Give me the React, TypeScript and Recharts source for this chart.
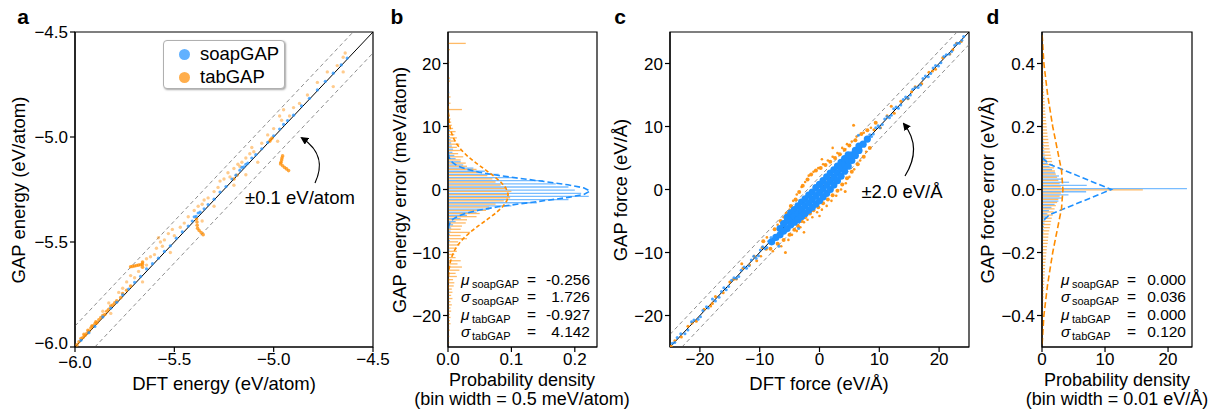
import React from 'react';
import {
  ScatterChart,
  Scatter,
  ComposedChart,
  Bar,
  Line,
  XAxis,
  YAxis,
  ReferenceLine,
  ReferenceArea,
} from 'recharts';

const FONT = "'Liberation Sans', Arial, Helvetica, sans-serif";
const BLUE = '#1e90ff';
const ORANGE = '#ff8c00';

// ---- panel a: energies (eV/atom)
const energyTicks = [-6, -5.5, -5, -4.5];

const soapEnergy = [
  { dft: -5.97, gap: -5.968 }, { dft: -5.93, gap: -5.932 }, { dft: -5.9, gap: -5.902 },
  { dft: -5.86, gap: -5.857 }, { dft: -5.82, gap: -5.815 }, { dft: -5.79, gap: -5.787 },
  { dft: -5.76, gap: -5.752 }, { dft: -5.73, gap: -5.724 }, { dft: -5.7, gap: -5.692 },
  { dft: -5.67, gap: -5.664 }, { dft: -5.64, gap: -5.628 }, { dft: -5.61, gap: -5.603 },
  { dft: -5.58, gap: -5.577 }, { dft: -5.55, gap: -5.545 }, { dft: -5.52, gap: -5.518 },
  { dft: -5.49, gap: -5.482 }, { dft: -5.46, gap: -5.452 }, { dft: -5.43, gap: -5.424 },
  { dft: -5.41, gap: -5.4 }, { dft: -5.39, gap: -5.378 }, { dft: -5.37, gap: -5.358 },
  { dft: -5.35, gap: -5.342 }, { dft: -5.33, gap: -5.322 }, { dft: -5.3, gap: -5.296 },
  { dft: -5.27, gap: -5.262 }, { dft: -5.24, gap: -5.236 }, { dft: -5.21, gap: -5.2 },
  { dft: -5.19, gap: -5.182 }, { dft: -5.17, gap: -5.158 }, { dft: -5.15, gap: -5.142 },
  { dft: -5.13, gap: -5.124 }, { dft: -5.11, gap: -5.1 }, { dft: -5.09, gap: -5.084 },
  { dft: -5.06, gap: -5.056 }, { dft: -5.03, gap: -5.026 }, { dft: -5.0, gap: -4.994 },
  { dft: -4.97, gap: -4.962 }, { dft: -4.95, gap: -4.94 }, { dft: -4.93, gap: -4.922 },
  { dft: -4.9, gap: -4.896 }, { dft: -4.86, gap: -4.852 }, { dft: -4.82, gap: -4.816 },
  { dft: -4.78, gap: -4.776 }, { dft: -4.74, gap: -4.735 }, { dft: -4.7, gap: -4.696 },
  { dft: -4.66, gap: -4.657 }, { dft: -4.63, gap: -4.624 }, { dft: -5.4, gap: -5.38 },
  { dft: -5.38, gap: -5.362 }, { dft: -5.16, gap: -5.145 }, { dft: -5.14, gap: -5.13 },
];

// faint, scattered tabGAP points
const tabEnergy = [
  { dft: -5.86, gap: -5.83 }, { dft: -5.83, gap: -5.79 }, { dft: -5.78, gap: -5.74 },
  { dft: -5.74, gap: -5.69 }, { dft: -5.72, gap: -5.66 }, { dft: -5.7, gap: -5.67 },
  { dft: -5.68, gap: -5.64 }, { dft: -5.66, gap: -5.6 }, { dft: -5.64, gap: -5.58 },
  { dft: -5.62, gap: -5.57 }, { dft: -5.6, gap: -5.56 }, { dft: -5.59, gap: -5.53 },
  { dft: -5.57, gap: -5.5 }, { dft: -5.55, gap: -5.49 }, { dft: -5.58, gap: -5.48 },
  { dft: -5.53, gap: -5.46 }, { dft: -5.5, gap: -5.47 }, { dft: -5.47, gap: -5.43 },
  { dft: -5.45, gap: -5.41 }, { dft: -5.43, gap: -5.38 }, { dft: -5.4, gap: -5.35 },
  { dft: -5.38, gap: -5.33 }, { dft: -5.36, gap: -5.32 }, { dft: -5.33, gap: -5.29 },
  { dft: -5.3, gap: -5.26 }, { dft: -5.28, gap: -5.24 }, { dft: -5.25, gap: -5.2 },
  { dft: -5.23, gap: -5.17 }, { dft: -5.2, gap: -5.15 }, { dft: -5.18, gap: -5.13 },
  { dft: -5.16, gap: -5.12 }, { dft: -5.14, gap: -5.1 }, { dft: -5.12, gap: -5.08 },
  { dft: -5.1, gap: -5.07 }, { dft: -5.06, gap: -5.03 }, { dft: -5.03, gap: -4.99 },
  { dft: -5.0, gap: -4.96 }, { dft: -4.97, gap: -4.9 }, { dft: -4.95, gap: -4.87 },
  { dft: -4.92, gap: -4.9 }, { dft: -4.9, gap: -4.86 }, { dft: -4.87, gap: -4.84 },
  { dft: -4.83, gap: -4.8 }, { dft: -4.78, gap: -4.74 }, { dft: -4.73, gap: -4.69 },
  { dft: -4.68, gap: -4.66 }, { dft: -4.65, gap: -4.62 }, { dft: -4.64, gap: -4.6 },
  { dft: -5.82, gap: -5.84 }, { dft: -5.66, gap: -5.69 }, { dft: -5.52, gap: -5.55 },
  { dft: -5.36, gap: -5.4 }, { dft: -5.3, gap: -5.33 }, { dft: -5.2, gap: -5.23 },
  { dft: -5.14, gap: -5.18 }, { dft: -5.08, gap: -5.12 }, { dft: -4.98, gap: -5.02 },
  { dft: -4.7, gap: -4.76 }, { dft: -4.65, gap: -4.69 }, { dft: -5.64, gap: -5.61 },
  { dft: -5.56, gap: -5.52 }, { dft: -5.51, gap: -5.44 }, { dft: -5.35, gap: -5.3 },
  { dft: -5.27, gap: -5.21 }, { dft: -5.22, gap: -5.19 }, { dft: -5.17, gap: -5.14 },
  { dft: -5.11, gap: -5.05 }, { dft: -4.96, gap: -4.92 }, { dft: -5.76, gap: -5.72 },
];

// dense tabGAP streaks (cluster near -6 and short segments)
const tabEnergyStreaks = [
  { dft: -5.99, gap: -5.99 }, { dft: -5.98, gap: -5.975 }, { dft: -5.97, gap: -5.96 },
  { dft: -5.96, gap: -5.955 }, { dft: -5.955, gap: -5.94 }, { dft: -5.95, gap: -5.945 },
  { dft: -5.94, gap: -5.935 }, { dft: -5.935, gap: -5.92 }, { dft: -5.93, gap: -5.925 },
  { dft: -5.92, gap: -5.91 }, { dft: -5.915, gap: -5.9 }, { dft: -5.91, gap: -5.9 },
  { dft: -5.9, gap: -5.89 }, { dft: -5.895, gap: -5.88 }, { dft: -5.89, gap: -5.885 },
  { dft: -5.88, gap: -5.87 }, { dft: -5.87, gap: -5.86 }, { dft: -5.86, gap: -5.85 },
  { dft: -5.85, gap: -5.845 }, { dft: -5.84, gap: -5.83 }, { dft: -5.83, gap: -5.82 },
  { dft: -5.82, gap: -5.805 }, { dft: -5.81, gap: -5.8 }, { dft: -5.8, gap: -5.79 },
  { dft: -5.79, gap: -5.78 }, { dft: -5.77, gap: -5.765 }, { dft: -5.76, gap: -5.745 },
  { dft: -5.74, gap: -5.73 }, { dft: -5.72, gap: -5.71 },
  { dft: -5.02, gap: -5.02 }, { dft: -5.015, gap: -5.012 }, { dft: -5.008, gap: -5.005 },
  { dft: -5.2, gap: -5.2 }, { dft: -5.185, gap: -5.182 },
  { dft: -5.72, gap: -5.618 }, { dft: -5.71, gap: -5.616 }, { dft: -5.7, gap: -5.614 },
  { dft: -5.69, gap: -5.612 }, { dft: -5.68, gap: -5.61 }, { dft: -5.67, gap: -5.608 },
  { dft: -5.66, gap: -5.607 }, { dft: -5.66, gap: -5.62 }, { dft: -5.66, gap: -5.595 },
  { dft: -5.388, gap: -5.39 }, { dft: -5.386, gap: -5.405 }, { dft: -5.385, gap: -5.42 },
  { dft: -5.383, gap: -5.435 }, { dft: -5.375, gap: -5.445 }, { dft: -5.365, gap: -5.455 },
  { dft: -5.355, gap: -5.465 },
  { dft: -4.955, gap: -5.09 }, { dft: -4.958, gap: -5.1 }, { dft: -4.96, gap: -5.11 },
  { dft: -4.963, gap: -5.12 }, { dft: -4.965, gap: -5.128 }, { dft: -4.955, gap: -5.137 },
  { dft: -4.945, gap: -5.145 }, { dft: -4.935, gap: -5.152 }, { dft: -4.925, gap: -5.16 },
];

// ---- panel b: energy error histogram (meV/atom), bin width 0.5
const energyErrTicks = [-20, -10, 0, 10, 20];
const densityTicksB = [0, 0.1, 0.2];

const energyHist = [
  { e: 23.25, soap: 0, tab: 0.028 }, { e: 22.25, soap: 0, tab: 0.003 },
  { e: 20.25, soap: 0, tab: 0.002 }, { e: 17.75, soap: 0, tab: 0.003 },
  { e: 17.25, soap: 0.002, tab: 0.003 }, { e: 15.25, soap: 0.002, tab: 0.002 },
  { e: 14.75, soap: 0, tab: 0.004 }, { e: 13.75, soap: 0, tab: 0.004 },
  { e: 12.75, soap: 0, tab: 0.022 }, { e: 11.75, soap: 0.002, tab: 0.003 },
  { e: 11.25, soap: 0, tab: 0.004 }, { e: 10.75, soap: 0, tab: 0.005 },
  { e: 10.25, soap: 0.002, tab: 0.006 }, { e: 9.75, soap: 0, tab: 0.008 },
  { e: 9.25, soap: 0.003, tab: 0.012 }, { e: 8.75, soap: 0.002, tab: 0.01 },
  { e: 8.25, soap: 0.003, tab: 0.014 }, { e: 7.75, soap: 0.004, tab: 0.012 },
  { e: 7.25, soap: 0.005, tab: 0.018 }, { e: 6.75, soap: 0.006, tab: 0.014 },
  { e: 6.25, soap: 0.008, tab: 0.02 }, { e: 5.75, soap: 0.007, tab: 0.016 },
  { e: 5.25, soap: 0.01, tab: 0.024 }, { e: 4.75, soap: 0.012, tab: 0.02 },
  { e: 4.25, soap: 0.02, tab: 0.028 }, { e: 3.75, soap: 0.024, tab: 0.03 },
  { e: 3.25, soap: 0.04, tab: 0.045 }, { e: 2.75, soap: 0.058, tab: 0.05 },
  { e: 2.25, soap: 0.08, tab: 0.062 }, { e: 1.75, soap: 0.105, tab: 0.07 },
  { e: 1.25, soap: 0.15, tab: 0.075 }, { e: 0.75, soap: 0.17, tab: 0.083 },
  { e: 0.25, soap: 0.19, tab: 0.09 }, { e: -0.25, soap: 0.2, tab: 0.1 },
  { e: -0.75, soap: 0.21, tab: 0.095 }, { e: -1.25, soap: 0.222, tab: 0.098 },
  { e: -1.75, soap: 0.19, tab: 0.088 }, { e: -2.25, soap: 0.14, tab: 0.075 },
  { e: -2.75, soap: 0.1, tab: 0.065 }, { e: -3.25, soap: 0.065, tab: 0.06 },
  { e: -3.75, soap: 0.045, tab: 0.05 }, { e: -4.25, soap: 0.03, tab: 0.045 },
  { e: -4.75, soap: 0.02, tab: 0.03 }, { e: -5.25, soap: 0.012, tab: 0.028 },
  { e: -5.75, soap: 0.008, tab: 0.022 }, { e: -6.25, soap: 0.005, tab: 0.02 },
  { e: -6.75, soap: 0.004, tab: 0.035 }, { e: -7.25, soap: 0.003, tab: 0.02 },
  { e: -7.75, soap: 0.002, tab: 0.03 }, { e: -8.25, soap: 0.003, tab: 0.016 },
  { e: -8.75, soap: 0.002, tab: 0.018 }, { e: -9.25, soap: 0, tab: 0.012 },
  { e: -9.75, soap: 0.002, tab: 0.014 }, { e: -10.25, soap: 0, tab: 0.01 },
  { e: -10.75, soap: 0, tab: 0.012 }, { e: -11.25, soap: 0, tab: 0.02 },
  { e: -11.75, soap: 0, tab: 0.015 }, { e: -12.25, soap: 0, tab: 0.022 },
  { e: -12.75, soap: 0, tab: 0.018 }, { e: -13.25, soap: 0, tab: 0.012 },
  { e: -13.75, soap: 0, tab: 0.014 }, { e: -14.25, soap: 0, tab: 0.008 },
  { e: -14.75, soap: 0, tab: 0.01 }, { e: -15.25, soap: 0, tab: 0.009 },
  { e: -15.75, soap: 0, tab: 0.006 }, { e: -16.25, soap: 0, tab: 0.007 },
  { e: -16.75, soap: 0, tab: 0.005 }, { e: -17.25, soap: 0, tab: 0.007 },
  { e: -17.75, soap: 0, tab: 0.004 }, { e: -18.25, soap: 0, tab: 0.006 },
  { e: -18.75, soap: 0, tab: 0.004 }, { e: -19.25, soap: 0, tab: 0.005 },
  { e: -19.75, soap: 0, tab: 0.003 }, { e: -20.25, soap: 0, tab: 0.004 },
  { e: -20.75, soap: 0, tab: 0.003 }, { e: -21.25, soap: 0, tab: 0.004 },
  { e: -21.75, soap: 0, tab: 0.002 }, { e: -22.25, soap: 0, tab: 0.003 },
  { e: -23.25, soap: 0, tab: 0.002 }, { e: -24.25, soap: 0, tab: 0.002 },
];

const soapEnergyFit = [
  { e: 5.75, p: 0.0005 }, { e: 5.25, p: 0.0014 }, { e: 4.75, p: 0.0033 },
  { e: 4.25, p: 0.0074 }, { e: 3.75, p: 0.0152 }, { e: 3.25, p: 0.0285 },
  { e: 2.75, p: 0.0491 }, { e: 2.25, p: 0.0781 }, { e: 1.75, p: 0.114 },
  { e: 1.25, p: 0.153 }, { e: 0.75, p: 0.189 }, { e: 0.25, p: 0.2146 },
  { e: -0.25, p: 0.224 }, { e: -0.75, p: 0.215 }, { e: -1.25, p: 0.1897 },
  { e: -1.75, p: 0.154 }, { e: -2.25, p: 0.115 }, { e: -2.75, p: 0.0789 },
  { e: -3.25, p: 0.0498 }, { e: -3.75, p: 0.0289 }, { e: -4.25, p: 0.0154 },
  { e: -4.75, p: 0.0075 }, { e: -5.25, p: 0.0034 }, { e: -5.75, p: 0.0014 },
  { e: -6.25, p: 0.0005 },
];

const tabEnergyFit = [
  { e: 13.25, p: 0.0003 }, { e: 12.25, p: 0.0006 }, { e: 11.25, p: 0.0013 },
  { e: 10.25, p: 0.0025 }, { e: 9.25, p: 0.0046 }, { e: 8.25, p: 0.0082 },
  { e: 7.25, p: 0.0135 }, { e: 6.25, p: 0.0212 }, { e: 5.25, p: 0.0312 },
  { e: 4.25, p: 0.0435 }, { e: 3.25, p: 0.0571 }, { e: 2.25, p: 0.0708 },
  { e: 1.25, p: 0.0827 }, { e: 0.25, p: 0.0912 }, { e: -0.75, p: 0.0949 },
  { e: -1.75, p: 0.0931 }, { e: -2.75, p: 0.0862 }, { e: -3.75, p: 0.0753 },
  { e: -4.75, p: 0.062 }, { e: -5.75, p: 0.0482 }, { e: -6.75, p: 0.0354 },
  { e: -7.75, p: 0.0245 }, { e: -8.75, p: 0.016 }, { e: -9.75, p: 0.0098 },
  { e: -10.75, p: 0.0057 }, { e: -11.75, p: 0.0031 }, { e: -12.75, p: 0.0016 },
  { e: -13.75, p: 0.0008 }, { e: -15.75, p: 0.0002 },
];

const statsB = [
  { sym: 'μ', sub: 'soapGAP', val: '-0.256' },
  { sym: 'σ', sub: 'soapGAP', val: '1.726' },
  { sym: 'μ', sub: 'tabGAP', val: '-0.927' },
  { sym: 'σ', sub: 'tabGAP', val: '4.142' },
];

// ---- panel c: forces (eV/Å)
const forceTicks = [-20, -10, 0, 10, 20];

const tabForce = [
  { dft: -24.2, gap: -24.0 }, { dft: -23.1, gap: -23.4 }, { dft: -22, gap: -21.7 },
  { dft: -20.6, gap: -20.9 }, { dft: -19.3, gap: -19.0 }, { dft: -18.2, gap: -18.5 },
  { dft: -17.4, gap: -17.0 }, { dft: -16.1, gap: -16.4 }, { dft: -15, gap: -14.7 },
  { dft: -13.9, gap: -14.2 }, { dft: -12.8, gap: -12.5 }, { dft: -11.7, gap: -12.0 },
  { dft: -10.9, gap: -10.6 }, { dft: -10.5, gap: -11.3 }, { dft: -9.6, gap: -9.2 },
  { dft: -8.9, gap: -9.5 }, { dft: -5.7, gap: -10.0 }, { dft: 9.1, gap: 9.5 },
  { dft: 10.2, gap: 9.8 }, { dft: 11.3, gap: 11.7 }, { dft: 12.5, gap: 12.1 },
  { dft: 13.6, gap: 14 }, { dft: 14.8, gap: 14.4 }, { dft: 16, gap: 16.3 },
  { dft: 17.1, gap: 16.8 }, { dft: 18.3, gap: 18.6 }, { dft: 19.4, gap: 19.1 },
  { dft: 20.6, gap: 20.9 }, { dft: 21.8, gap: 21.5 }, { dft: 22.9, gap: 23.2 },
  { dft: 23.7, gap: 23.5 }, { dft: 5.7, gap: 10.2 }, { dft: 4.3, gap: -0.3 },
  { dft: 12, gap: 13.2 }, { dft: -13, gap: -11.8 }, { dft: -24.8, gap: -24.9 },
  { dft: -21.3, gap: -21.2 }, { dft: -17.9, gap: -18.1 }, { dft: -14.4, gap: -14.3 },
  { dft: 15.4, gap: 15.5 }, { dft: 18.9, gap: 18.8 }, { dft: 22.3, gap: 22.2 },
];

const tabForceHalo = [
  { dft: -7.8, gap: -9.8 }, { dft: -7, gap: -5.6 }, { dft: -6.4, gap: -9 },
  { dft: -6, gap: -4.4 }, { dft: -5.2, gap: -8 }, { dft: -5, gap: -3.2 },
  { dft: -4.6, gap: -7.2 }, { dft: -4.4, gap: -1.8 }, { dft: -3.8, gap: -6.6 },
  { dft: -3.8, gap: -0.8 }, { dft: -3.2, gap: -6 }, { dft: -3, gap: 0.4 },
  { dft: -2.6, gap: -5.2 }, { dft: -2.4, gap: 1.2 }, { dft: -2, gap: -4.8 },
  { dft: -1.8, gap: 2.2 }, { dft: -1.2, gap: -4.4 }, { dft: -1, gap: 2.8 },
  { dft: -0.4, gap: -3.6 }, { dft: -0.2, gap: 3.4 }, { dft: 0.4, gap: -3.2 },
  { dft: 0.6, gap: 4 }, { dft: 1.2, gap: -2.6 }, { dft: 1.4, gap: 4.6 },
  { dft: 2, gap: -1.8 }, { dft: 2.2, gap: 5.2 }, { dft: 2.8, gap: -1 },
  { dft: 3, gap: 5.8 }, { dft: 3.6, gap: 0 }, { dft: 3.8, gap: 6.6 },
  { dft: 4.4, gap: 1 }, { dft: 4.6, gap: 7.2 }, { dft: 5, gap: 2 },
  { dft: 5.4, gap: 7.6 }, { dft: 5.8, gap: 3.2 }, { dft: 6.2, gap: 8.4 },
  { dft: 6.8, gap: 4.6 }, { dft: 7.4, gap: 9 }, { dft: 7.8, gap: 6 },
  { dft: 8.6, gap: 9.8 }, { dft: -8.8, gap: -7.6 }, { dft: -9.8, gap: -10.6 },
  { dft: 2.2, gap: 6.6 }, { dft: -2.6, gap: -6.8 }, { dft: 0, gap: -4.2 },
  { dft: 0.4, gap: 4.8 },
];

const tabForceCore = [
  { dft: -8.2, gap: -9.4 }, { dft: -7.5, gap: -6.3 }, { dft: -7, gap: -8.6 },
  { dft: -6.5, gap: -5 }, { dft: -6, gap: -8 }, { dft: -5.5, gap: -3.8 },
  { dft: -5, gap: -7.2 }, { dft: -4.8, gap: -2.6 }, { dft: -4.2, gap: -6.4 },
  { dft: -4, gap: -1.6 }, { dft: -3.6, gap: -5.8 }, { dft: -3.4, gap: -0.4 },
  { dft: -3, gap: -5 }, { dft: -2.8, gap: 0.6 }, { dft: -2.4, gap: -4.4 },
  { dft: -2, gap: 1.6 }, { dft: -1.6, gap: -3.8 }, { dft: -1.4, gap: 2.4 },
  { dft: -1, gap: -3.3 }, { dft: -0.6, gap: 3 }, { dft: -0.2, gap: -2.8 },
  { dft: 0.2, gap: 3.4 }, { dft: 0.6, gap: -2.2 }, { dft: 1, gap: 3.9 },
  { dft: 1.4, gap: -1.6 }, { dft: 1.8, gap: 4.4 }, { dft: 2.2, gap: -0.9 },
  { dft: 2.6, gap: 5 }, { dft: 3, gap: -0.2 }, { dft: 3.4, gap: 5.6 },
  { dft: 3.8, gap: 0.8 }, { dft: 4.2, gap: 6.3 }, { dft: 4.6, gap: 1.8 },
  { dft: 5, gap: 7 }, { dft: 5.4, gap: 2.8 }, { dft: 6, gap: 7.8 },
  { dft: 6.4, gap: 4 }, { dft: 7, gap: 8.8 }, { dft: 7.4, gap: 5.2 },
  { dft: 8, gap: 9.4 }, { dft: 8.4, gap: 6.6 }, { dft: -9.4, gap: -8.2 },
  { dft: 9.4, gap: 10.6 },
];

const soapForce = [
  { dft: -24.6, gap: -24.4 }, { dft: -23.8, gap: -23.5 }, { dft: -22.5, gap: -22.9 },
  { dft: -21.4, gap: -21 }, { dft: -20.3, gap: -20.6 }, { dft: -19.5, gap: -19.2 },
  { dft: -18.6, gap: -18.8 }, { dft: -17.9, gap: -17.4 }, { dft: -16.8, gap: -17.1 },
  { dft: -16, gap: -15.6 }, { dft: -15.2, gap: -15.4 }, { dft: -14.3, gap: -14 },
  { dft: -13.5, gap: -13.8 }, { dft: -12.6, gap: -12.3 }, { dft: -11.8, gap: -12.1 },
  { dft: -11, gap: -10.6 }, { dft: -10.2, gap: -10.5 }, { dft: -9.5, gap: -9.1 },
  { dft: -8.8, gap: -9.2 }, { dft: -8.1, gap: -7.6 }, { dft: -7.4, gap: -7.9 },
  { dft: 8, gap: 8.3 }, { dft: 8.7, gap: 8.4 }, { dft: 9.4, gap: 9.8 },
  { dft: 10.1, gap: 9.8 }, { dft: 10.9, gap: 11.2 }, { dft: 11.7, gap: 11.4 },
  { dft: 12.4, gap: 12.8 }, { dft: 13.2, gap: 12.9 }, { dft: 14, gap: 14.3 },
  { dft: 14.8, gap: 14.5 }, { dft: 15.6, gap: 15.9 }, { dft: 16.5, gap: 16.2 },
  { dft: 17.3, gap: 17.6 }, { dft: 18.2, gap: 17.9 }, { dft: 19, gap: 19.3 },
  { dft: 19.9, gap: 19.6 }, { dft: 20.8, gap: 21.1 }, { dft: 21.7, gap: 21.5 },
  { dft: 22.6, gap: 22.9 }, { dft: 23.4, gap: 23.2 }, { dft: 24.1, gap: 24.3 },
  { dft: -3.5, gap: -6.2 }, { dft: 6.5, gap: 8.6 }, { dft: -6.8, gap: -9 },
  { dft: -24.2, gap: -24.3 }, { dft: -23.2, gap: -22.9 }, { dft: -22, gap: -22.3 },
  { dft: -21, gap: -20.7 }, { dft: -19.9, gap: -20.2 }, { dft: -18.9, gap: -18.6 },
  { dft: -17.4, gap: -17.7 }, { dft: -16.4, gap: -16.2 }, { dft: -15.6, gap: -15.9 },
  { dft: -14.7, gap: -14.4 }, { dft: -13.9, gap: -14.1 }, { dft: -13.1, gap: -12.8 },
  { dft: -12.2, gap: -12.5 }, { dft: -11.4, gap: -11.2 }, { dft: -10.6, gap: -10.9 },
  { dft: -9.9, gap: -9.6 }, { dft: -9.1, gap: -9.4 }, { dft: -8.5, gap: -8.2 },
  { dft: -7.8, gap: -8.1 }, { dft: 8.4, gap: 8.7 }, { dft: 9, gap: 8.8 },
  { dft: 9.8, gap: 10.1 }, { dft: 10.5, gap: 10.3 }, { dft: 11.3, gap: 11.6 },
  { dft: 12, gap: 11.8 }, { dft: 12.8, gap: 13.1 }, { dft: 13.6, gap: 13.4 },
  { dft: 14.4, gap: 14.7 }, { dft: 15.2, gap: 15 }, { dft: 16, gap: 16.2 },
  { dft: 16.9, gap: 16.6 }, { dft: 17.7, gap: 18 }, { dft: 18.6, gap: 18.4 },
  { dft: 19.4, gap: 19.7 }, { dft: 20.3, gap: 20.1 }, { dft: 21.2, gap: 21.4 },
  { dft: 22.1, gap: 21.9 }, { dft: 23, gap: 23.2 }, { dft: 23.8, gap: 23.7 },
];

const soapForceCore = [
  { dft: -8, gap: -8.3 }, { dft: -7.3, gap: -7.6 }, { dft: -6.6, gap: -7.2 },
  { dft: -6.6, gap: -6.2 }, { dft: -6, gap: -6.6 }, { dft: -6, gap: -5.4 },
  { dft: -5.4, gap: -6.2 }, { dft: -5.4, gap: -5 }, { dft: -5.4, gap: -4.4 },
  { dft: -4.8, gap: -5.6 }, { dft: -4.8, gap: -4.6 }, { dft: -4.8, gap: -3.7 },
  { dft: -4.2, gap: -5.2 }, { dft: -4.2, gap: -4.2 }, { dft: -4.2, gap: -3.2 },
  { dft: -3.6, gap: -4.8 }, { dft: -3.6, gap: -3.8 }, { dft: -3.6, gap: -2.6 },
  { dft: -3, gap: -4.3 }, { dft: -3, gap: -3.2 }, { dft: -3, gap: -2 },
  { dft: -2.4, gap: -3.8 }, { dft: -2.4, gap: -2.6 }, { dft: -2.4, gap: -1.5 },
  { dft: -1.8, gap: -3.3 }, { dft: -1.8, gap: -2.1 }, { dft: -1.8, gap: -0.9 },
  { dft: -1.2, gap: -2.8 }, { dft: -1.2, gap: -1.6 }, { dft: -1.2, gap: -0.4 },
  { dft: -0.6, gap: -2.3 }, { dft: -0.6, gap: -1 }, { dft: -0.6, gap: 0.3 },
  { dft: 0, gap: -1.8 }, { dft: 0, gap: -0.5 }, { dft: 0, gap: 0.8 },
  { dft: 0.6, gap: -1.2 }, { dft: 0.6, gap: 0.1 }, { dft: 0.6, gap: 1.4 },
  { dft: 1.2, gap: -0.6 }, { dft: 1.2, gap: 0.7 }, { dft: 1.2, gap: 2 },
  { dft: 1.8, gap: 0 }, { dft: 1.8, gap: 1.3 }, { dft: 1.8, gap: 2.6 },
  { dft: 2.4, gap: 0.7 }, { dft: 2.4, gap: 1.9 }, { dft: 2.4, gap: 3.1 },
  { dft: 3, gap: 1.4 }, { dft: 3, gap: 2.6 }, { dft: 3, gap: 3.7 },
  { dft: 3.6, gap: 2.1 }, { dft: 3.6, gap: 3.3 }, { dft: 3.6, gap: 4.3 },
  { dft: 4.2, gap: 2.9 }, { dft: 4.2, gap: 4 }, { dft: 4.2, gap: 4.9 },
  { dft: 4.8, gap: 3.7 }, { dft: 4.8, gap: 4.7 }, { dft: 4.8, gap: 5.5 },
  { dft: 5.4, gap: 4.6 }, { dft: 5.4, gap: 5.5 }, { dft: 6, gap: 5.4 },
  { dft: 6, gap: 6.2 }, { dft: 6.6, gap: 6.2 }, { dft: 6.6, gap: 6.9 },
  { dft: 7.3, gap: 7.2 }, { dft: 8, gap: 8 },
];

// ---- panel d: force error histogram (eV/Å), bin width 0.01
const forceErrTicks = [-0.4, -0.2, 0, 0.2, 0.4];
const densityTicksD = [0, 10, 20];

const forceHist = [
  { f: 0.49, soap: 0, tab: 0.1 }, { f: 0.48, soap: 0, tab: 0.12 }, { f: 0.47, soap: 0, tab: 0.1 },
  { f: 0.46, soap: 0, tab: 0.12 }, { f: 0.45, soap: 0, tab: 0.14 }, { f: 0.44, soap: 0, tab: 0.12 },
  { f: 0.43, soap: 0, tab: 0.15 }, { f: 0.42, soap: 0, tab: 0.14 }, { f: 0.41, soap: 0, tab: 0.16 },
  { f: 0.4, soap: 0, tab: 0.15 }, { f: 0.39, soap: 0, tab: 0.18 }, { f: 0.38, soap: 0, tab: 0.17 },
  { f: 0.37, soap: 0, tab: 0.2 }, { f: 0.36, soap: 0, tab: 0.2 }, { f: 0.35, soap: 0, tab: 0.22 },
  { f: 0.34, soap: 0, tab: 0.24 }, { f: 0.33, soap: 0, tab: 0.26 }, { f: 0.32, soap: 0, tab: 0.28 },
  { f: 0.31, soap: 0.03, tab: 0.32 }, { f: 0.3, soap: 0.05, tab: 0.35 }, { f: 0.29, soap: 0.05, tab: 0.4 },
  { f: 0.28, soap: 0.06, tab: 0.4 }, { f: 0.27, soap: 0.05, tab: 0.45 }, { f: 0.26, soap: 0.06, tab: 0.5 },
  { f: 0.25, soap: 0.07, tab: 0.5 }, { f: 0.24, soap: 0.08, tab: 0.55 }, { f: 0.23, soap: 0.08, tab: 0.6 },
  { f: 0.22, soap: 0.1, tab: 0.65 }, { f: 0.21, soap: 0.1, tab: 0.7 }, { f: 0.2, soap: 0.12, tab: 0.75 },
  { f: 0.19, soap: 0.13, tab: 0.8 }, { f: 0.18, soap: 0.15, tab: 0.85 }, { f: 0.17, soap: 0.16, tab: 0.9 },
  { f: 0.16, soap: 0.2, tab: 1.0 }, { f: 0.15, soap: 0.22, tab: 1.05 }, { f: 0.14, soap: 0.25, tab: 1.1 },
  { f: 0.13, soap: 0.3, tab: 1.2 }, { f: 0.12, soap: 0.35, tab: 1.3 }, { f: 0.11, soap: 0.4, tab: 1.4 },
  { f: 0.1, soap: 0.5, tab: 1.5 }, { f: 0.09, soap: 0.7, tab: 1.6 }, { f: 0.08, soap: 0.9, tab: 1.75 },
  { f: 0.07, soap: 1.2, tab: 1.9 }, { f: 0.06, soap: 1.6, tab: 2.05 }, { f: 0.05, soap: 2.1, tab: 2.2 },
  { f: 0.04, soap: 2.7, tab: 2.4 }, { f: 0.03, soap: 3.3, tab: 2.6 }, { f: 0.02, soap: 4.3, tab: 2.8 },
  { f: 0.01, soap: 7.1, tab: 3.0 }, { f: 0, soap: 23.0, tab: 16.0 }, { f: -0.01, soap: 7.0, tab: 3.0 },
  { f: -0.02, soap: 4.2, tab: 2.8 }, { f: -0.03, soap: 3.2, tab: 2.6 }, { f: -0.04, soap: 2.6, tab: 2.4 },
  { f: -0.05, soap: 2.0, tab: 2.2 }, { f: -0.06, soap: 1.5, tab: 2.0 }, { f: -0.07, soap: 1.1, tab: 1.85 },
  { f: -0.08, soap: 0.85, tab: 1.7 }, { f: -0.09, soap: 0.65, tab: 1.55 }, { f: -0.1, soap: 0.5, tab: 1.45 },
  { f: -0.11, soap: 0.4, tab: 1.35 }, { f: -0.12, soap: 0.32, tab: 1.25 }, { f: -0.13, soap: 0.28, tab: 1.15 },
  { f: -0.14, soap: 0.24, tab: 1.05 }, { f: -0.15, soap: 0.2, tab: 1.0 }, { f: -0.16, soap: 0.18, tab: 0.95 },
  { f: -0.17, soap: 0.15, tab: 0.9 }, { f: -0.18, soap: 0.13, tab: 0.8 }, { f: -0.19, soap: 0.12, tab: 0.75 },
  { f: -0.2, soap: 0.1, tab: 0.7 }, { f: -0.21, soap: 0.1, tab: 0.65 }, { f: -0.22, soap: 0.08, tab: 0.6 },
  { f: -0.23, soap: 0.08, tab: 0.55 }, { f: -0.24, soap: 0.07, tab: 0.5 }, { f: -0.25, soap: 0.06, tab: 0.48 },
  { f: -0.26, soap: 0.05, tab: 0.45 }, { f: -0.27, soap: 0.05, tab: 0.42 }, { f: -0.28, soap: 0.04, tab: 0.4 },
  { f: -0.29, soap: 0.04, tab: 0.36 }, { f: -0.3, soap: 0.03, tab: 0.34 }, { f: -0.31, soap: 0, tab: 0.3 },
  { f: -0.32, soap: 0, tab: 0.28 }, { f: -0.33, soap: 0, tab: 0.26 }, { f: -0.34, soap: 0, tab: 0.24 },
  { f: -0.35, soap: 0, tab: 0.22 }, { f: -0.36, soap: 0, tab: 0.2 }, { f: -0.37, soap: 0, tab: 0.19 },
  { f: -0.38, soap: 0, tab: 0.17 }, { f: -0.39, soap: 0, tab: 0.16 }, { f: -0.4, soap: 0, tab: 0.15 },
  { f: -0.41, soap: 0, tab: 0.14 }, { f: -0.42, soap: 0, tab: 0.13 }, { f: -0.43, soap: 0, tab: 0.12 },
  { f: -0.44, soap: 0, tab: 0.12 }, { f: -0.45, soap: 0, tab: 0.11 }, { f: -0.46, soap: 0, tab: 0.1 },
  { f: -0.47, soap: 0, tab: 0.1 }, { f: -0.48, soap: 0, tab: 0.1 }, { f: -0.49, soap: 0, tab: 0.1 },
];

const soapForceFit = [
  { f: 0.1, p: 0.1 }, { f: 0.08, p: 1.2 }, { f: 0, p: 11.0 }, { f: -0.08, p: 1.2 }, { f: -0.1, p: 0.1 },
];

const tabForceFit = [
  { f: 0.49, p: 0.02 }, { f: 0.4, p: 0.3 }, { f: 0.3, p: 0.9 }, { f: 0.2, p: 1.7 },
  { f: 0.12, p: 2.5 }, { f: 0.06, p: 3.1 }, { f: 0, p: 3.32 }, { f: -0.06, p: 3.1 },
  { f: -0.12, p: 2.5 }, { f: -0.2, p: 1.7 }, { f: -0.3, p: 0.9 }, { f: -0.4, p: 0.3 },
  { f: -0.49, p: 0.02 },
];

const statsD = [
  { sym: 'μ', sub: 'soapGAP', val: '0.000' },
  { sym: 'σ', sub: 'soapGAP', val: '0.036' },
  { sym: 'μ', sub: 'tabGAP', val: '0.000' },
  { sym: 'σ', sub: 'tabGAP', val: '0.120' },
];

const statRows = [279.5, 296.9, 314.3, 331.7];

const fmtDec1 = (v: number) => (v < 0 ? '\u2212' : '') + Math.abs(v).toFixed(1);
const fmtInt = (v: number) => (v < 0 ? '\u2212' : '') + Math.abs(v).toFixed(0);

const tickStyle = { fill: '#000', fontSize: 17, fontFamily: FONT };
const lineStyle = { stroke: '#000', strokeWidth: 1.2 };
const chartMargin = { top: 32, right: 24, bottom: 32, left: 0 };

const dot = (color: string, r: number, opacity: number) => (p: any) => (
  <circle cx={p.cx} cy={p.cy} r={r} fill={color} fillOpacity={opacity} />
);

// panel a: the two "−6.0" labels meet in the corner, nudge them apart a little
const energyXTick = (p: any) => (
  <text x={p.x} y={p.y + (p.payload.value === -6 ? 3 : 0)} dy="0.71em" textAnchor="middle" {...tickStyle}>
    {fmtDec1(p.payload.value)}
  </text>
);
const energyYTick = (p: any) => (
  <text x={p.x} y={p.y + (p.payload.value === -6 ? -4 : 0)} dy="0.355em" textAnchor="end" {...tickStyle}>
    {fmtDec1(p.payload.value)}
  </text>
);

function Txt({ x, y, size = 18.5, bold = false, rotate = false, children }: any) {
  return (
    <div
      style={{
        position: 'absolute',
        left: x,
        top: y,
        transform: `translate(-50%, -50%)${rotate ? ' rotate(-90deg)' : ''}`,
        fontSize: size,
        fontWeight: bold ? 'bold' : 'normal',
        whiteSpace: 'nowrap',
        lineHeight: 1,
      }}
    >
      {children}
    </div>
  );
}

// one "μ_x = value" line; symbol, subscript, "=" and value are separate boxes
function Stats({ rows, x, eqX, right }: any) {
  return (
    <>
      {rows.map((r: any, i: number) => (
        <React.Fragment key={i}>
          <div style={{ position: 'absolute', left: x, top: statRows[i] - 6.5, height: 13, fontSize: 15.5, lineHeight: '13px', whiteSpace: 'nowrap' }}>
            <i>{r.sym}</i>
          </div>
          <div style={{ position: 'absolute', left: x + 11, top: statRows[i] + 0.5, height: 9, fontSize: 11, lineHeight: '9px', whiteSpace: 'nowrap' }}>
            {r.sub}
          </div>
          <div style={{ position: 'absolute', left: eqX, top: statRows[i] - 6.5, height: 13, fontSize: 15.5, lineHeight: '13px' }}>=</div>
          <div style={{ position: 'absolute', right: 1220 - right, top: statRows[i] - 6.5, height: 13, fontSize: 15.5, lineHeight: '13px' }}>{r.val}</div>
        </React.Fragment>
      ))}
    </>
  );
}

export default function App() {
  return (
    <div style={{ position: 'absolute', left: 0, top: 0, width: 1220, height: 409, background: '#fff', fontFamily: FONT, color: '#000' }}>
      {/* a */}
      <div style={{ position: 'absolute', left: 15, top: 0 }}>
        <ScatterChart width={382} height={409} margin={chartMargin}>
          <XAxis type="number" dataKey="dft" domain={[-6, -4.5]} ticks={energyTicks}
            tick={energyXTick} tickLine={lineStyle} axisLine={lineStyle} tickSize={5} tickMargin={1} height={30} allowDataOverflow />
          <YAxis type="number" dataKey="gap" domain={[-6, -4.5]} ticks={energyTicks}
            tick={energyYTick} tickLine={lineStyle} axisLine={lineStyle} tickSize={5} width={60} allowDataOverflow />
          <ReferenceArea x1={-6} x2={-4.5} y1={-6} y2={-4.5} fill="none" stroke="#000" strokeWidth={1.2} />
          <ReferenceLine segment={[{ x: -6, y: -5.9 }, { x: -4.6, y: -4.5 }]} stroke="#808080" strokeDasharray="4 3" strokeWidth={0.9} />
          <ReferenceLine segment={[{ x: -5.9, y: -6 }, { x: -4.5, y: -4.6 }]} stroke="#808080" strokeDasharray="4 3" strokeWidth={0.9} />
          <Scatter data={tabEnergy} shape={dot(ORANGE, 1.7, 0.45)} isAnimationActive={false} />
          <Scatter data={tabEnergyStreaks} shape={dot(ORANGE, 1.8, 0.75)} isAnimationActive={false} />
          <Scatter data={soapEnergy} shape={dot(BLUE, 1.6, 0.75)} isAnimationActive={false} />
          <ReferenceLine segment={[{ x: -6, y: -6 }, { x: -4.5, y: -4.5 }]} stroke="#000" strokeWidth={1} />
        </ScatterChart>
      </div>

      {/* b */}
      <div style={{ position: 'absolute', left: 388, top: 0 }}>
        <ComposedChart layout="vertical" width={233} height={409} data={energyHist} margin={chartMargin} barGap={0}>
          <XAxis type="number" domain={[0, 0.235]} ticks={densityTicksB} tickFormatter={fmtDec1}
            tick={tickStyle} tickLine={lineStyle} axisLine={lineStyle} tickSize={5} tickMargin={1} height={30} allowDataOverflow />
          <YAxis type="number" dataKey="e" domain={[-25, 25]} ticks={energyErrTicks} tickFormatter={fmtInt} reversed
            tick={tickStyle} tickLine={lineStyle} axisLine={lineStyle} tickSize={5} width={60} allowDataOverflow />
          <ReferenceArea x1={0} x2={0.235} y1={-25} y2={25} fill="none" stroke="#000" strokeWidth={1.2} />
          <Bar dataKey="soap" fill={BLUE} fillOpacity={0.6} barSize={1.3} isAnimationActive={false} />
          <Bar dataKey="tab" fill={ORANGE} fillOpacity={0.6} barSize={1.3} isAnimationActive={false} />
          <Line data={soapEnergyFit} dataKey="p" type="linear" stroke={BLUE} strokeWidth={1.6} strokeDasharray="6 3" dot={false} isAnimationActive={false} />
          <Line data={tabEnergyFit} dataKey="p" type="linear" stroke={ORANGE} strokeWidth={1.6} strokeDasharray="4 2.5" dot={false} isAnimationActive={false} />
        </ComposedChart>
      </div>

      {/* c */}
      <div style={{ position: 'absolute', left: 610, top: 0 }}>
        <ScatterChart width={383} height={409} margin={chartMargin}>
          <XAxis type="number" dataKey="dft" domain={[-25, 25]} ticks={forceTicks} tickFormatter={fmtInt}
            tick={tickStyle} tickLine={lineStyle} axisLine={lineStyle} tickSize={5} tickMargin={1} height={30} allowDataOverflow />
          <YAxis type="number" dataKey="gap" domain={[-25, 25]} ticks={forceTicks} tickFormatter={fmtInt}
            tick={tickStyle} tickLine={lineStyle} axisLine={lineStyle} tickSize={5} width={60} allowDataOverflow />
          <ReferenceArea x1={-25} x2={25} y1={-25} y2={25} fill="none" stroke="#000" strokeWidth={1.2} />
          <ReferenceLine segment={[{ x: -25, y: -23 }, { x: 23, y: 25 }]} stroke="#808080" strokeDasharray="4 3" strokeWidth={0.9} />
          <ReferenceLine segment={[{ x: -23, y: -25 }, { x: 25, y: 23 }]} stroke="#808080" strokeDasharray="4 3" strokeWidth={0.9} />
          <Scatter data={tabForceHalo} shape={dot(ORANGE, 1.3, 0.9)} isAnimationActive={false} />
          <Scatter data={tabForceCore} shape={dot(ORANGE, 2, 0.9)} isAnimationActive={false} />
          <Scatter data={tabForce} shape={dot(ORANGE, 1.5, 0.9)} isAnimationActive={false} />
          <Scatter data={soapForce} shape={dot(BLUE, 1.5, 0.8)} isAnimationActive={false} />
          <Scatter data={soapForceCore} shape={dot(BLUE, 3.6, 1)} isAnimationActive={false} />
          <ReferenceLine segment={[{ x: -25, y: -25 }, { x: 25, y: 25 }]} stroke="#000" strokeWidth={1} />
        </ScatterChart>
      </div>

      {/* d */}
      <div style={{ position: 'absolute', left: 982, top: 0 }}>
        <ComposedChart layout="vertical" width={234} height={409} data={forceHist} margin={chartMargin} barGap={0}>
          <XAxis type="number" domain={[0, 23.8]} ticks={densityTicksD} tickFormatter={fmtInt}
            tick={tickStyle} tickLine={lineStyle} axisLine={lineStyle} tickSize={5} tickMargin={1} height={30} allowDataOverflow />
          <YAxis type="number" dataKey="f" domain={[-0.5, 0.5]} ticks={forceErrTicks} tickFormatter={fmtDec1} reversed
            tick={tickStyle} tickLine={lineStyle} axisLine={lineStyle} tickSize={5} width={60} allowDataOverflow />
          <ReferenceArea x1={0} x2={23.8} y1={-0.5} y2={0.5} fill="none" stroke="#000" strokeWidth={1.2} />
          <Bar dataKey="soap" fill={BLUE} fillOpacity={0.6} barSize={1.3} isAnimationActive={false} />
          <Bar dataKey="tab" fill={ORANGE} fillOpacity={0.6} barSize={1.3} isAnimationActive={false} />
          <Line data={soapForceFit} dataKey="p" type="linear" stroke={BLUE} strokeWidth={1.6} strokeDasharray="6 3" dot={false} isAnimationActive={false} />
          <Line data={tabForceFit} dataKey="p" type="linear" stroke={ORANGE} strokeWidth={1.6} strokeDasharray="6 3" dot={false} isAnimationActive={false} />
        </ComposedChart>
      </div>

      {/* legend of a */}
      <div style={{ position: 'absolute', left: 163, top: 40, width: 120, height: 47, border: '1px solid #b0b0b0', borderRadius: 4, boxShadow: '1px 1px 2px rgba(0,0,0,0.35)', background: '#fff' }}>
        {[{ c: BLUE, t: 'soapGAP' }, { c: ORANGE, t: 'tabGAP' }].map((it, i) => (
          <div key={i} style={{ position: 'absolute', left: 0, top: 2 + i * 23, height: 22, fontSize: 18.5, lineHeight: '22px' }}>
            <span style={{ position: 'absolute', left: 15, top: 6, width: 11, height: 11, borderRadius: '50%', background: it.c, opacity: 0.7 }} />
            <span style={{ position: 'absolute', left: 36, whiteSpace: 'nowrap' }}>{it.t}</span>
          </div>
        ))}
      </div>

      {/* titles */}
      <Txt x={23} y={16} size={21} bold>a</Txt>
      <Txt x={397} y={16} size={21} bold>b</Txt>
      <Txt x={620} y={16} size={21} bold>c</Txt>
      <Txt x={993} y={16} size={21} bold>d</Txt>

      <Txt x={19} y={190} rotate>GAP energy (eV/atom)</Txt>
      <Txt x={224} y={384}>DFT energy (eV/atom)</Txt>
      <Txt x={400} y={190} rotate>GAP energy error (meV/atom)</Txt>
      <Txt x={522} y={380} size={18}>Probability density</Txt>
      <Txt x={522} y={399} size={18}>(bin width = 0.5 meV/atom)</Txt>
      <Txt x={621} y={190} rotate>GAP force (eV/Å)</Txt>
      <Txt x={819} y={384}>DFT force (eV/Å)</Txt>
      <Txt x={988} y={190} rotate>GAP force error (eV/Å)</Txt>
      <Txt x={1117} y={380} size={18}>Probability density</Txt>
      <Txt x={1117} y={399} size={18}>(bin width = 0.01 eV/Å)</Txt>

      <Txt x={300} y={198}>±0.1 eV/atom</Txt>
      <Txt x={902} y={192}>±2.0 eV/Å</Txt>

      <Stats rows={statsB} x={461} eqX={527} right={590} />
      <Stats rows={statsD} x={1061} eqX={1127} right={1186} />

      <svg width={1220} height={409} style={{ position: 'absolute', left: 0, top: 0, pointerEvents: 'none' }}>
        <defs>
          <marker id="head" markerWidth="8" markerHeight="8" refX="6" refY="4" orient="auto" markerUnits="userSpaceOnUse">
            <path d="M0,0 L8,4 L0,8 Z" fill="#000" />
          </marker>
        </defs>
        <path d="M315,183 C322,168 323,152 302,138" fill="none" stroke="#000" strokeWidth={1.2} markerEnd="url(#head)" />
        <path d="M905,176 C915,160 918,142 904,124" fill="none" stroke="#000" strokeWidth={1.2} markerEnd="url(#head)" />
      </svg>
    </div>
  );
}
